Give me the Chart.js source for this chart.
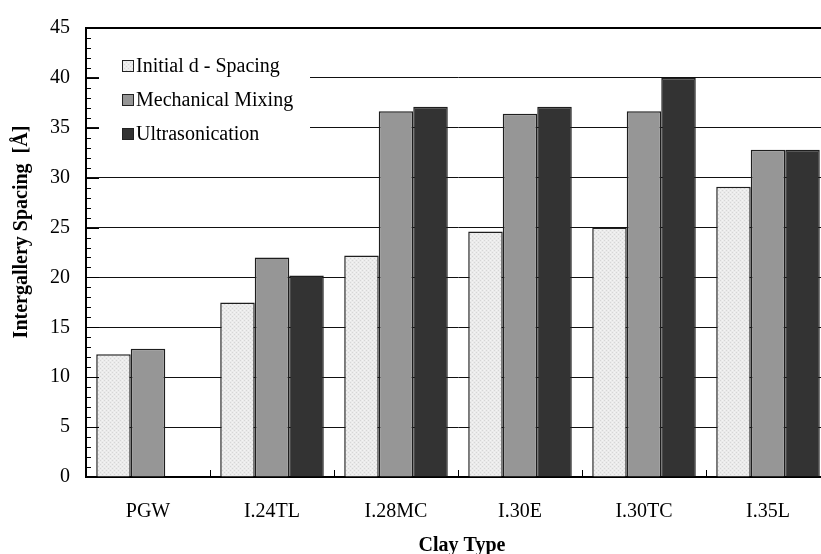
<!DOCTYPE html>
<html><head><meta charset="utf-8">
<script src="https://cdn.jsdelivr.net/npm/chart.js@4"></script>
<style>
html,body{margin:0;padding:0;background:#fff;overflow:hidden;width:821px;height:554px;}
#wrap{position:absolute;left:0;top:0;width:840px;height:554px;}
</style></head>
<body><div id="wrap"><canvas id="c" width="840" height="554"></canvas></div>
<script>
const categories = ['PGW', 'I.24TL', 'I.28MC', 'I.30E', 'I.30TC', 'I.35L'];
const initialSpacing = [12.3, 17.5, 22.2, 24.6, 25.0, 29.1];
const mechanicalMixing = [12.85, 22.0, 36.65, 36.4, 36.65, 32.8];
const ultrasonication = [null, 20.2, 37.1, 37.1, 40.0, 32.8];
const seriesNames = ['Initial d - Spacing', 'Mechanical Mixing', 'Ultrasonication'];
const yMin = 0, yMax = 45, yStep = 5, yMinorStep = 1;
const xTitle = 'Clay Type';
const yTitle = 'Intergallery Spacing  [Å]';

const FONT = "'Liberation Serif', 'Times New Roman', serif";

function makePattern() {
  const p = document.createElement('canvas');
  p.width = 4; p.height = 4;
  const g = p.getContext('2d');
  g.fillStyle = '#ebebeb'; g.fillRect(0, 0, 4, 4);
  g.fillStyle = '#d6d6d6';
  g.fillRect(0, 0, 1, 1); g.fillRect(2, 2, 1, 1);
  g.fillStyle = '#f4f4f4';
  g.fillRect(2, 0, 1, 1); g.fillRect(0, 2, 1, 1);
  return document.getElementById('c').getContext('2d').createPattern(p, 'repeat');
}
const lightPattern = makePattern();

const decorPlugin = {
  id: 'decor',
  afterDatasetsDraw(chart) {
    const ctx = chart.ctx, a = chart.chartArea;
    const ys = chart.scales.y, xs = chart.scales.x;
    ctx.save();
    // legend background
    ctx.fillStyle = '#fff';
    ctx.fillRect(99, 47, 211, 104);
    // legend entries
    const ds = chart.data.datasets;
    ctx.font = '20px ' + FONT;
    ctx.textBaseline = 'middle';
    ctx.textAlign = 'left';
    const rows = [66, 100, 134];
    ds.forEach((d, i) => {
      const cy = rows[i];
      ctx.fillStyle = d.backgroundColor;
      ctx.fillRect(122, cy - 6, 12, 12);
      ctx.strokeStyle = '#222';
      ctx.lineWidth = 1;
      ctx.strokeRect(122.5, cy - 5.5, 11, 11);
      ctx.fillStyle = '#000';
      ctx.fillText(d.label, 136, cy + 1);
    });
    // y-axis title
    ctx.save();
    ctx.translate(22, 232);
    ctx.rotate(-Math.PI / 2);
    ctx.font = 'bold 20px ' + FONT;
    ctx.textAlign = 'center';
    ctx.textBaseline = 'middle';
    ctx.fillStyle = '#000';
    ctx.fillText(yTitle, 0, 0);
    ctx.restore();
    // x-axis title
    ctx.font = 'bold 20px ' + FONT;
    ctx.textAlign = 'center';
    ctx.textBaseline = 'middle';
    ctx.fillStyle = '#000';
    ctx.fillText(xTitle, 462, 546);
    // top border
    ctx.strokeStyle = '#000';
    ctx.lineWidth = 2;
    ctx.beginPath();
    ctx.moveTo(a.left - 1, a.top);
    ctx.lineTo(a.right + 20, a.top);
    ctx.stroke();
    // minor & major ticks on y axis (inward)
    ctx.lineWidth = 1;
    for (let v = yMin + yMinorStep; v < yMax; v += yMinorStep) {
      const y = Math.round(ys.getPixelForValue(v)) + 0.5;
      const len = (v % yStep === 0) ? 13 : 5;
      ctx.beginPath();
      ctx.moveTo(a.left, y);
      ctx.lineTo(a.left + len, y);
      ctx.stroke();
    }
    // category boundary ticks on x axis (upward)
    for (let i = 0; i < categories.length - 1; i++) {
      const x = Math.round((xs.getPixelForValue(i) + xs.getPixelForValue(i + 1)) / 2) + 0.5;
      ctx.beginPath();
      ctx.moveTo(x, a.bottom);
      ctx.lineTo(x, a.bottom - 7);
      ctx.stroke();
    }
    ctx.restore();
  }
};

new Chart(document.getElementById('c'), {
  type: 'bar',
  data: {
    labels: categories,
    datasets: [
      { label: seriesNames[0], data: initialSpacing, backgroundColor: lightPattern },
      { label: seriesNames[1], data: mechanicalMixing, backgroundColor: '#969696' },
      { label: seriesNames[2], data: ultrasonication, backgroundColor: '#333333' }
    ]
  },
  options: {
    responsive: false,
    animation: false,
    devicePixelRatio: 1,
    layout: { padding: { left: 0, right: 10, top: 23, bottom: 0 } },
    datasets: {
      bar: {
        categoryPercentage: 0.835,
        barPercentage: 1.0,
        borderColor: '#1e1e1e',
        borderWidth: 1.5,
        borderSkipped: 'start'
      }
    },
    plugins: { legend: { display: false }, tooltip: { enabled: false } },
    scales: {
      x: {
        offset: true,
        grid: { display: false, drawTicks: false },
        border: { display: true, color: '#000', width: 2 },
        ticks: { color: '#000', font: { family: FONT, size: 20 }, padding: 23, maxRotation: 0 },
        title: { display: false },
        afterFit(s) { s.height = 77; }
      },
      y: {
        min: yMin, max: yMax,
        ticks: { stepSize: yStep, color: '#000', font: { family: FONT, size: 20 }, padding: 16 },
        grid: {
          drawTicks: false,
          color: (c) => (c.tick && (c.tick.value === yMin || c.tick.value === yMax)) ? 'rgba(0,0,0,0)' : '#111',
          lineWidth: 1
        },
        border: { display: true, color: '#000', width: 2 },
        title: { display: false },
        afterFit(s) { s.width = 86; }
      }
    }
  },
  plugins: [decorPlugin]
});
</script></body></html>
